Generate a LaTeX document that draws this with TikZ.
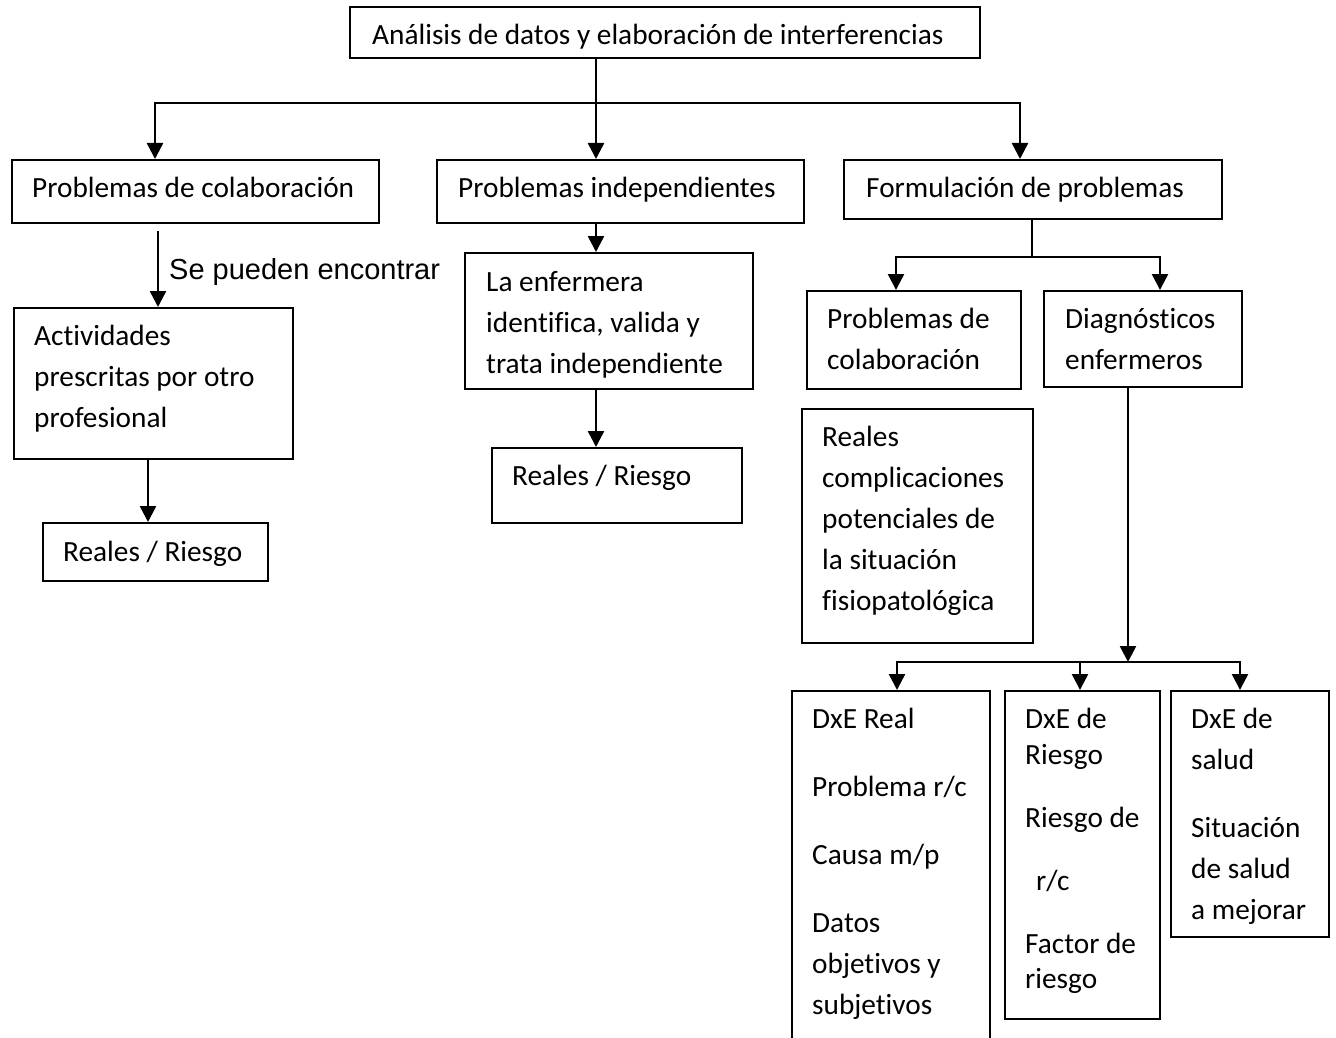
\documentclass[tikz,border=0pt]{standalone}
\usepackage{fontspec}
\setmainfont{Carlito}[Ligatures=NoCommon]
\newfontfamily\labelfont{Liberation Sans}
\usetikzlibrary{arrows.meta,calc}

\newcommand{\bodyfont}{\fontsize{29.3}{41}\selectfont}

\tikzset{
  box/.style={draw, line width=2pt, rectangle, anchor=north west, inner sep=0pt},
  txt/.style={anchor=north west, inner sep=0pt, align=left, font=\bodyfont},
  link/.style={line width=2.5pt},
  arr/.style={line width=2.5pt, -{Triangle[width=16pt,length=16pt]}},
}

\begin{document}
\begin{tikzpicture}[x=1pt, y=-1pt]
\useasboundingbox[fill=white] (0,0) rectangle (1336,1038);

% ---- boxes ----
\node[box, minimum width=630pt, minimum height=51pt] (top) at (349,6) {};
\node[box, minimum width=367pt, minimum height=63pt] (b1) at (11,159) {};
\node[box, minimum width=367pt, minimum height=63pt] (b2) at (436,159) {};
\node[box, minimum width=378pt, minimum height=59pt] (b3) at (843,159) {};
\node[box, minimum width=279pt, minimum height=151pt] (act) at (13,307) {};
\node[box, minimum width=225pt, minimum height=58pt] (realL) at (42,522) {};
\node[box, minimum width=288pt, minimum height=136pt] (enf) at (464,252) {};
\node[box, minimum width=250pt, minimum height=75pt] (realR) at (491,447) {};
\node[box, minimum width=214pt, minimum height=98pt] (pc) at (806,290) {};
\node[box, minimum width=198pt, minimum height=96pt] (diag) at (1043,290) {};
\node[box, minimum width=231pt, minimum height=234pt] (rc) at (801,408) {};
\node[box, minimum width=198pt, minimum height=380pt] (d1) at (791,690) {};
\node[box, minimum width=155pt, minimum height=328pt] (d2) at (1004,690) {};
\node[box, minimum width=158pt, minimum height=246pt] (d3) at (1170,690) {};

% ---- texts (first baseline = y + 28.7) ----
\node[txt] (ttop) at (372,15.3) {\strut Análisis de datos y elaboración de interferencias};
\node[txt] (tb1) at (32,168.3) {\strut Problemas de colaboración};
\node[txt] (tb2) at (458,168.3) {\strut Problemas independientes};
\node[txt] (tb3) at (866,168.3) {\strut Formulación de problemas};
\node[txt] (tact) at (34,316.3) {\strut Actividades\\prescritas por otro\\profesional};
\node[txt] (trealL) at (63,532.3) {\strut Reales / Riesgo};
\node[txt] (tenf) at (486,262.3) {\strut La enfermera\\identifica, valida y\\trata independiente};
\node[txt] (trealR) at (512,456.3) {\strut Reales / Riesgo};
\node[txt] (tpc) at (827,299.3) {\strut Problemas de\\colaboración};
\node[txt] (tdiag) at (1065,299.3) {\strut Diagnósticos\\enfermeros};
\node[txt] (trc) at (822,417.3) {\strut Reales\\complicaciones\\potenciales de\\la situación\\fisiopatológica};
\node[txt] (td1) at (812,699.3) {\strut DxE Real\\[27pt]Problema r/c\\[27pt]Causa m/p\\[27pt]Datos\\objetivos y\\subjetivos};
\node[txt] (td2) at (1025,699.3) {\strut DxE de\\[-5pt]Riesgo\\[22pt]Riesgo de\\[22pt]\hspace*{11pt}r/c\\[22pt]Factor de\\[-6pt]riesgo};
\node[txt] (td3) at (1191,699.3) {\strut DxE de\\salud\\[27pt]Situación\\de salud\\a mejorar};
\node[anchor=base west, inner sep=0pt, font=\labelfont\fontsize{29}{34}\selectfont] (lbl) at (169,279) {Se pueden encontrar};

% ---- junction and entry points ----
\coordinate (j0) at (596,103);
\coordinate (a1) at ($(b1.north west)+(144,0)$);
\coordinate (a2) at ($(b2.north west)+(160,0)$);
\coordinate (a3) at ($(b3.north west)+(177,0)$);
\coordinate (c1) at ($(act.north west)+(145,0)$);
\coordinate (c2) at ($(realL.north west)+(106,0)$);
\coordinate (c3) at ($(enf.north west)+(132,0)$);
\coordinate (c4) at ($(realR.north west)+(105,0)$);
\coordinate (j1) at (1032,257);
\coordinate (e1) at ($(pc.north west)+(90,0)$);
\coordinate (e2) at ($(diag.north west)+(117,0)$);
\coordinate (j2) at (1128,662);
\coordinate (f1) at ($(d1.north west)+(106,0)$);
\coordinate (f2) at ($(d2.north west)+(76,0)$);
\coordinate (f3) at ($(d3.north west)+(70,0)$);

% ---- connectors ----
\draw[link] (j0 |- top.south) -- (j0);
\draw[arr] (j0) -| (a1);
\draw[arr] (j0) -| (a3);
\draw[arr] (j0) -- (a2);

\draw[arr] ($(c1 |- b1.south)+(0,7)$) -- (c1);
\draw[arr] (c2 |- act.south) -- (c2);
\draw[arr] (c3 |- b2.south) -- (c3);
\draw[arr] (c4 |- enf.south) -- (c4);

\draw[link] (j1 |- b3.south) -- (j1);
\draw[arr] (j1) -| (e1);
\draw[arr] (j1) -| (e2);

\draw[arr] (j2 |- diag.south) -- (j2);
\draw[arr] (j2) -| (f1);
\draw[arr] (j2) -| (f3);
\draw[arr] (j2 -| f2) -- (f2);
\end{tikzpicture}
\end{document}
